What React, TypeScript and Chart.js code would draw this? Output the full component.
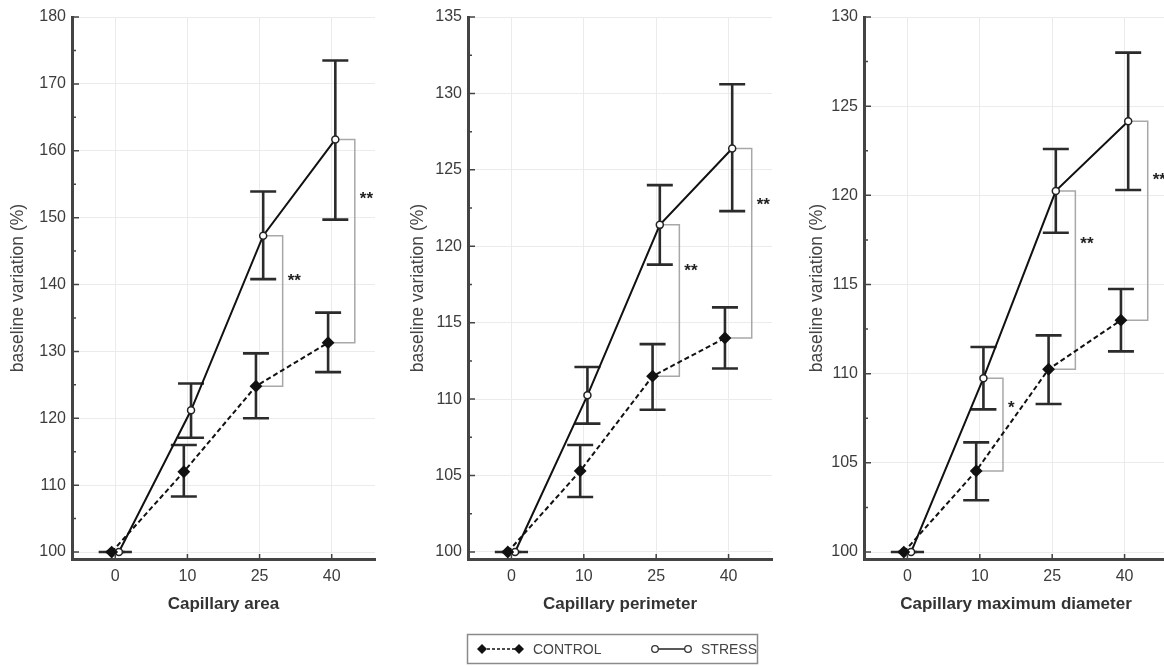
import React, { useEffect, useRef } from "react";
import { Chart, registerables } from "chart.js";

Chart.register(...registerables);

// ---------- data ----------
const X_LABELS = ["0", "10", "25", "40"];
const X_POS = [0, 1, 2, 3];

const AREA_CONTROL = [100, 112.0, 124.8, 131.3];
const AREA_CONTROL_LOW = [100, 108.3, 120.0, 126.9];
const AREA_CONTROL_HIGH = [100, 116.0, 129.7, 135.8];
const AREA_STRESS = [100, 121.2, 147.3, 161.7];
const AREA_STRESS_LOW = [100, 117.1, 140.8, 149.7];
const AREA_STRESS_HIGH = [100, 125.2, 153.9, 173.5];
const AREA_SIG = ["", "", "**", "**"];
const AREA_TICKS = [100, 110, 120, 130, 140, 150, 160, 170, 180];

const PERIM_CONTROL = [100, 105.3, 111.5, 114.0];
const PERIM_CONTROL_LOW = [100, 103.6, 109.3, 112.0];
const PERIM_CONTROL_HIGH = [100, 107.0, 113.6, 116.0];
const PERIM_STRESS = [100, 110.25, 121.4, 126.4];
const PERIM_STRESS_LOW = [100, 108.4, 118.8, 122.3];
const PERIM_STRESS_HIGH = [100, 112.1, 124.0, 130.6];
const PERIM_SIG = ["", "", "**", "**"];
const PERIM_TICKS = [100, 105, 110, 115, 120, 125, 130, 135];

const DIAM_CONTROL = [100, 104.55, 110.25, 113.0];
const DIAM_CONTROL_LOW = [100, 102.9, 108.3, 111.25];
const DIAM_CONTROL_HIGH = [100, 106.15, 112.15, 114.75];
const DIAM_STRESS = [100, 109.75, 120.25, 124.15];
const DIAM_STRESS_LOW = [100, 108.0, 117.9, 120.3];
const DIAM_STRESS_HIGH = [100, 111.5, 122.6, 128.0];
const DIAM_SIG = ["", "*", "**", "**"];
const DIAM_TICKS = [100, 105, 110, 115, 120, 125, 130];

const Y_TITLE = "baseline variation (%)";
const SERIES_NAMES = ["CONTROL", "STRESS"];

// ---------- styling / layout ----------
const FONT = '"Liberation Sans", Arial, sans-serif';
const JITTER = 0.05;
const BRACKET_OFFSET = 0.32;
const CANVAS_H = 640;

type Panel = {
  title: string;
  control: number[];
  controlLow: number[];
  controlHigh: number[];
  stress: number[];
  stressLow: number[];
  stressHigh: number[];
  sig: string[];
  ticks: number[];
  yMin: number;
  left: number;
  width: number;
  axisWidth: number;
  padRight: number;
  titlePad: number;
};

const PANELS: Panel[] = [
  {
    title: "Capillary area",
    control: AREA_CONTROL, controlLow: AREA_CONTROL_LOW, controlHigh: AREA_CONTROL_HIGH,
    stress: AREA_STRESS, stressLow: AREA_STRESS_LOW, stressHigh: AREA_STRESS_HIGH,
    sig: AREA_SIG, ticks: AREA_TICKS, yMin: 98.96,
    left: 0, width: 390, axisWidth: 72, padRight: 15, titlePad: 8,
  },
  {
    title: "Capillary perimeter",
    control: PERIM_CONTROL, controlLow: PERIM_CONTROL_LOW, controlHigh: PERIM_CONTROL_HIGH,
    stress: PERIM_STRESS, stressLow: PERIM_STRESS_LOW, stressHigh: PERIM_STRESS_HIGH,
    sig: PERIM_SIG, ticks: PERIM_TICKS, yMin: 99.54,
    left: 390, width: 390, axisWidth: 78, padRight: 8, titlePad: 18,
  },
  {
    title: "Capillary maximum diameter",
    control: DIAM_CONTROL, controlLow: DIAM_CONTROL_LOW, controlHigh: DIAM_CONTROL_HIGH,
    stress: DIAM_STRESS, stressLow: DIAM_STRESS_LOW, stressHigh: DIAM_STRESS_HIGH,
    sig: DIAM_SIG, ticks: DIAM_TICKS, yMin: 99.61,
    left: 770, width: 405, axisWidth: 94, padRight: 3, titlePad: 37,
  },
];

const overlayPlugin = {
  id: "overlay",
  beforeDatasetsDraw(chart: any, _args: any, opts: any) {
    const p: Panel = opts.panel;
    const { ctx } = chart;
    const x = chart.scales.x;
    const y = chart.scales.y;
    ctx.save();
    // significance brackets
    p.sig.forEach((s, i) => {
      if (!s) return;
      const bx = x.getPixelForValue(X_POS[i] + BRACKET_OFFSET);
      const xs = x.getPixelForValue(X_POS[i] + JITTER);
      const xc = x.getPixelForValue(X_POS[i] - JITTER);
      const yt = y.getPixelForValue(p.stress[i]);
      const yb = y.getPixelForValue(p.control[i]);
      ctx.strokeStyle = "#a8a8a8";
      ctx.lineWidth = 1.5;
      ctx.beginPath();
      ctx.moveTo(xs, yt);
      ctx.lineTo(bx, yt);
      ctx.lineTo(bx, yb);
      ctx.lineTo(xc, yb);
      ctx.stroke();
      ctx.fillStyle = "#222";
      ctx.font = `bold 17px ${FONT}`;
      ctx.textAlign = "left";
      ctx.textBaseline = "alphabetic";
      const ty = yt + (yb - yt) * 0.27;
      ctx.fillText(s, bx + 5, ty + 10);
    });
    // error bars
    const drawBar = (xv: number, lo: number, hi: number) => {
      const px = x.getPixelForValue(xv);
      const pl = y.getPixelForValue(lo);
      const ph = y.getPixelForValue(hi);
      ctx.strokeStyle = "#2b2b2b";
      ctx.lineWidth = 2.6;
      ctx.beginPath();
      ctx.moveTo(px, pl);
      ctx.lineTo(px, ph);
      ctx.moveTo(px - 13, pl);
      ctx.lineTo(px + 13, pl);
      ctx.moveTo(px - 13, ph);
      ctx.lineTo(px + 13, ph);
      ctx.stroke();
    };
    X_POS.forEach((xp, i) => {
      drawBar(xp - JITTER, p.controlLow[i], p.controlHigh[i]);
      drawBar(xp + JITTER, p.stressLow[i], p.stressHigh[i]);
    });
    ctx.restore();
  },
  afterDraw(chart: any, _args: any, opts: any) {
    const p: Panel = opts.panel;
    const { ctx, chartArea } = chart;
    const x = chart.scales.x;
    const y = chart.scales.y;
    ctx.save();
    ctx.strokeStyle = "#444";
    ctx.lineWidth = 1.5;
    ctx.beginPath();
    p.ticks.forEach((t, i) => {
      const py = y.getPixelForValue(t);
      ctx.moveTo(chartArea.left, py);
      ctx.lineTo(chartArea.left + 7, py);
      if (i < p.ticks.length - 1) {
        const pm = y.getPixelForValue((t + p.ticks[i + 1]) / 2);
        ctx.moveTo(chartArea.left, pm);
        ctx.lineTo(chartArea.left + 4, pm);
      }
    });
    X_POS.forEach((xp) => {
      const px = x.getPixelForValue(xp);
      ctx.moveTo(px, chartArea.bottom);
      ctx.lineTo(px, chartArea.bottom - 5);
    });
    ctx.stroke();
    ctx.restore();
  },
};

function PanelChart({ panel }: { panel: Panel }) {
  const ref = useRef<HTMLCanvasElement | null>(null);
  useEffect(() => {
    if (!ref.current) return;
    const chart = new Chart(ref.current, {
      type: "line",
      data: {
        datasets: [
          {
            label: SERIES_NAMES[0],
            data: X_POS.map((xp, i) => ({ x: xp - JITTER, y: panel.control[i] })),
            borderColor: "#111",
            borderWidth: 2,
            borderDash: [5, 3],
            pointStyle: "rectRot",
            pointRadius: 5,
            pointBackgroundColor: "#111",
            pointBorderColor: "#111",
            tension: 0,
          },
          {
            label: SERIES_NAMES[1],
            data: X_POS.map((xp, i) => ({ x: xp + JITTER, y: panel.stress[i] })),
            borderColor: "#111",
            borderWidth: 2,
            pointStyle: "circle",
            pointRadius: 3.5,
            pointBackgroundColor: "#fff",
            pointBorderColor: "#222",
            pointBorderWidth: 1.5,
            tension: 0,
          },
        ],
      },
      options: {
        responsive: false,
        animation: false,
        devicePixelRatio: 1,
        layout: { padding: { top: 17, right: panel.padRight, left: 0, bottom: 0 } },
        plugins: {
          legend: { display: false },
          tooltip: { enabled: false },
          overlay: { panel },
        } as any,
        scales: {
          x: {
            type: "linear",
            min: -0.6,
            max: 3.6,
            afterBuildTicks: (s: any) => {
              s.ticks = X_POS.map((v) => ({ value: v }));
            },
            afterFit: (s: any) => {
              s.height = CANVAS_H - 559;
            },
            ticks: {
              callback: (v: any) => X_LABELS[Math.round(Number(v))] ?? "",
              font: { family: FONT, size: 16 },
              color: "#3c3c3c",
              padding: 8,
              maxRotation: 0,
            },
            grid: { color: "#ebebeb", lineWidth: 1, drawTicks: false },
            border: { display: true, color: "#444", width: 3 },
            title: {
              display: true,
              text: panel.title,
              font: { family: FONT, size: 17, weight: "bold" },
              color: "#333",
              padding: { top: 0, bottom: 25 },
            },
          },
          y: {
            type: "linear",
            min: panel.yMin,
            max: panel.ticks[panel.ticks.length - 1],
            afterBuildTicks: (s: any) => {
              s.ticks = panel.ticks.map((v) => ({ value: v }));
            },
            afterFit: (s: any) => {
              s.width = panel.axisWidth;
            },
            ticks: {
              font: { family: FONT, size: 16 },
              color: "#3c3c3c",
              padding: 6,
            },
            grid: { color: "#ebebeb", lineWidth: 1, drawTicks: false },
            border: { display: true, color: "#444", width: 3 },
            title: {
              display: true,
              text: Y_TITLE,
              font: { family: FONT, size: 17.5 },
              color: "#444",
              padding: { top: panel.titlePad, bottom: 0 },
            },
          },
        },
      },
      plugins: [overlayPlugin],
    } as any);
    return () => chart.destroy();
  }, [panel]);
  return (
    <canvas
      ref={ref}
      width={panel.width}
      height={CANVAS_H}
      style={{ position: "absolute", left: panel.left, top: 0, width: panel.width, height: CANVAS_H }}
    />
  );
}

function Legend() {
  return (
    <svg
      width={296}
      height={34}
      style={{ position: "absolute", left: 465, top: 632 }}
    >
      <rect x={2.5} y={2.5} width={290} height={29} fill="#fff" stroke="#8a8a8a" strokeWidth={1.5} />
      <line x1={17} y1={17} x2={54} y2={17} stroke="#111" strokeWidth={1.5} strokeDasharray="3 2" />
      <polygon points="17,12 22,17 17,22 12,17" fill="#111" />
      <polygon points="54,12 59,17 54,22 49,17" fill="#111" />
      <text x={68} y={22} fontFamily={FONT} fontSize={14} fill="#444">{SERIES_NAMES[0]}</text>
      <line x1={190} y1={17} x2={223} y2={17} stroke="#222" strokeWidth={1.3} />
      <circle cx={190} cy={17} r={3.3} fill="#fff" stroke="#333" strokeWidth={1.3} />
      <circle cx={223} cy={17} r={3.3} fill="#fff" stroke="#333" strokeWidth={1.3} />
      <text x={236} y={22} fontFamily={FONT} fontSize={14} fill="#444">{SERIES_NAMES[1]}</text>
    </svg>
  );
}

export default function App() {
  return (
    <div
      style={{
        position: "fixed",
        left: 0,
        top: 0,
        width: 1164,
        height: 666,
        overflow: "hidden",
        background: "#fff",
      }}
    >
      {PANELS.map((p) => (
        <PanelChart key={p.title} panel={p} />
      ))}
      <Legend />
    </div>
  );
}
